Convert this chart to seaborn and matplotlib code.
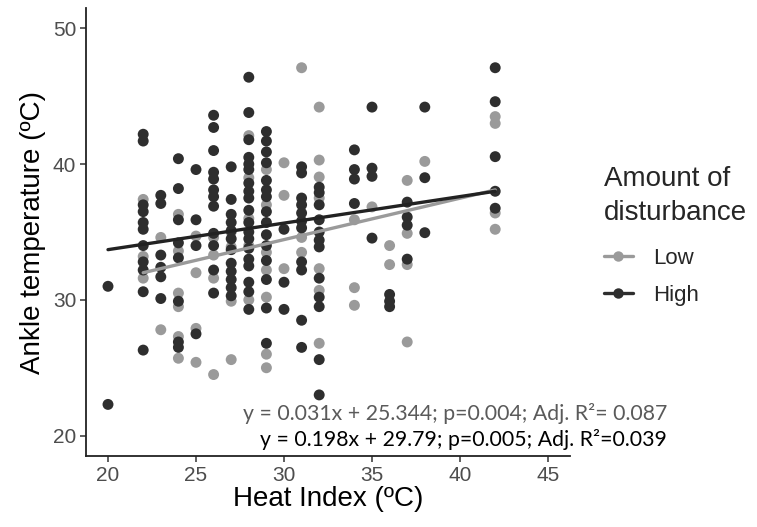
import matplotlib
matplotlib.use("Agg")
import matplotlib.pyplot as plt
import seaborn as sns
import pandas as pd
from matplotlib.lines import Line2D

# ---------------- data ----------------
low_heat = [22, 22, 22,
            23, 23,
            24, 24, 24, 24, 24, 24,
            25, 25, 25, 25,
            26, 26, 26, 26,
            27, 27, 27, 27,
            28, 28, 28, 28, 28,
            29, 29, 29, 29, 29, 29, 29,
            30, 30, 30,
            31, 31, 31,
            32, 32, 32, 32, 32, 32, 32,
            34, 34, 34,
            35,
            36, 36,
            37, 37, 37, 37,
            38,
            42, 42, 42, 42]
low_temp = [37.4, 33.2, 31.6,
            34.6, 27.8,
            36.3, 33.6, 30.5, 29.5, 27.3, 25.7,
            34.7, 32.0, 27.9, 25.4,
            34.6, 33.3, 31.6, 24.5,
            35.0, 33.9, 29.9, 25.6,
            42.1, 39.0, 36.0, 34.0, 30.0,
            39.6, 37.0, 33.5, 32.2, 30.2, 26.0, 25.0,
            40.1, 37.7, 32.3,
            47.1, 34.6, 33.5,
            44.2, 40.3, 39.05, 37.5, 32.3, 30.7, 26.8,
            35.9, 30.9, 29.6,
            36.85,
            34.0, 32.6,
            38.8, 34.9, 32.6, 26.9,
            40.2,
            43.5, 43.0, 36.4, 35.2]

high_heat = [20, 20,
             22, 22, 22, 22, 22, 22, 22, 22, 22, 22, 22,
             23, 23, 23, 23, 23, 23,
             24, 24, 24, 24, 24, 24, 24, 24,
             25, 25, 25, 25,
             26, 26, 26, 26, 26, 26, 26, 26, 26, 26, 26, 26,
             27, 27, 27, 27, 27, 27, 27, 27, 27, 27, 27, 27,
             28, 28, 28, 28, 28, 28, 28, 28, 28, 28, 28, 28, 28, 28, 28, 28, 28, 28, 28,
             29, 29, 29, 29, 29, 29, 29, 29, 29, 29, 29, 29, 29, 29, 29,
             30, 30, 30,
             31, 31, 31, 31, 31, 31, 31, 31, 31, 31, 31,
             32, 32, 32, 32, 32, 32, 32, 32, 32, 32, 32, 32,
             34, 34, 34, 34,
             35, 35, 35, 35,
             36, 36, 36,
             37, 37, 37, 37,
             38, 38, 38,
             42, 42, 42, 42, 42]
high_temp = [31.0, 22.3,
             42.2, 41.7, 37.0, 36.5, 35.7, 35.2, 34.0, 32.8, 32.2, 30.6, 26.3,
             37.7, 37.1, 33.3, 32.4, 31.7, 30.1,
             40.4, 38.2, 35.9, 34.2, 33.1, 29.9, 26.9, 26.5,
             39.6, 35.9, 34.0, 27.5,
             43.6, 42.7, 41.0, 39.4, 38.9, 38.1, 37.6, 36.9, 34.9, 34.0, 32.2, 30.5,
             39.8, 37.4, 36.3, 35.7, 35.1, 34.5, 33.7, 32.7, 32.1, 31.5, 30.9, 30.3,
             46.4, 43.8, 41.8, 40.5, 40.0, 39.6, 38.6, 38.0, 37.5, 36.6, 35.7, 35.0,
             34.5, 33.8, 33.0, 32.5, 31.3, 30.6, 29.3,
             42.4, 41.7, 40.9, 40.1, 38.8, 38.1, 37.6, 36.5, 35.7, 34.8, 34.0, 32.9,
             31.5, 29.4, 26.8,
             35.2, 31.3, 29.3,
             39.8, 39.35, 37.5, 37.0, 36.4, 35.8, 35.3, 32.8, 32.2, 28.5, 26.5,
             38.3, 37.9, 37.0, 35.9, 35.0, 34.4, 33.9, 31.6, 30.2, 29.5, 25.6, 23.0,
             41.05, 39.6, 38.9, 37.1,
             44.2, 39.7, 39.1, 34.55,
             30.4, 29.9, 29.5,
             37.2, 36.1, 35.5, 33.0,
             44.2, 39.0, 34.95,
             47.1, 44.6, 40.55, 38.0, 36.75]

# fitted regression lines as drawn in the reference
fit_low_x = [22, 42]
fit_low_y = [32.0, 38.1]
fit_high_x = [20, 42]
fit_high_y = [33.7, 38.0]

groups = ["Low", "High"]
x_ticks = [20, 25, 30, 35, 40, 45]
y_ticks = [20, 30, 40, 50]
eq_low = "y = 0.031x + 25.344; p=0.004; Adj. R\u00b2= 0.087"
eq_high = "y = 0.198x + 29.79; p=0.005; Adj. R\u00b2=0.039"

# ---------------- styling ----------------
sns.set_style("white")
plt.rcParams["font.family"] = ["Liberation Sans", "DejaVu Sans"]

col_low = "#9a9a9a"
col_high = "#2e2e2e"
palette = {"Low": col_low, "High": col_high}

df = pd.DataFrame({
    "heat": low_heat + high_heat,
    "temp": low_temp + high_temp,
    "group": ["Low"] * len(low_heat) + ["High"] * len(high_heat),
})

fig = plt.figure(figsize=(7.57, 5.27), dpi=100)
ax = fig.add_axes([86 / 757, 1 - 456 / 527, (570 - 86) / 757, (456 - 8) / 527])

sns.scatterplot(data=df, x="heat", y="temp", hue="group", hue_order=groups,
                palette=palette, s=62, linewidth=0, alpha=1.0, ax=ax,
                legend=False, zorder=2)
sns.lineplot(x=fit_low_x, y=fit_low_y, color=col_low, linewidth=2.4, ax=ax, zorder=3)
sns.lineplot(x=fit_high_x, y=fit_high_y, color="#222222", linewidth=2.4, ax=ax, zorder=4)

ax.set_xlim(18.75, 46.25)
ax.set_ylim(18.5, 51.5)
ax.set_xticks(x_ticks)
ax.set_yticks(y_ticks)
ax.set_xlabel("Heat Index (\u00baC)", fontsize=20, color="black", labelpad=1)
ax.set_ylabel("Ankle temperature (\u00baC)", fontsize=20, color="black", labelpad=5)
ax.tick_params(axis="both", labelsize=15, labelcolor="#4d4d4d", colors="#333333",
               length=4, width=1.1, direction="out", bottom=True, left=True, pad=3)
ax.tick_params(axis="both", labelcolor="#4d4d4d")
for side in ["top", "right"]:
    ax.spines[side].set_visible(False)
for side in ["left", "bottom"]:
    ax.spines[side].set_color("#222222")
    ax.spines[side].set_linewidth(1.3)

handles = [Line2D([0], [0], color=palette[g], marker="o", markersize=7.5,
                  linewidth=2.4, markeredgewidth=0) for g in groups]
leg = fig.legend(handles, groups, title="Amount of\ndisturbance",
                 loc="upper left", bbox_to_anchor=(604 / 757, 1 - 166 / 527),
                 frameon=False, fontsize=16, title_fontsize=20,
                 handlelength=1.3, handletextpad=0.9, labelspacing=0.7,
                 borderaxespad=0, borderpad=0)
leg._legend_box.align = "left"
leg._legend_box.sep = 16
leg.get_title().set_linespacing(1.4)

fig.text(667 / 757, 1 - 413 / 527, eq_low, ha="right", va="center",
         fontsize=15.3, color="#5a5a5a", family=["Lato", "DejaVu Sans"])
fig.text(667 / 757, 1 - 440 / 527, eq_high, ha="right", va="center",
         fontsize=15.3, color="black", family=["Lato", "DejaVu Sans"])

fig.savefig("out.png", dpi=100)
